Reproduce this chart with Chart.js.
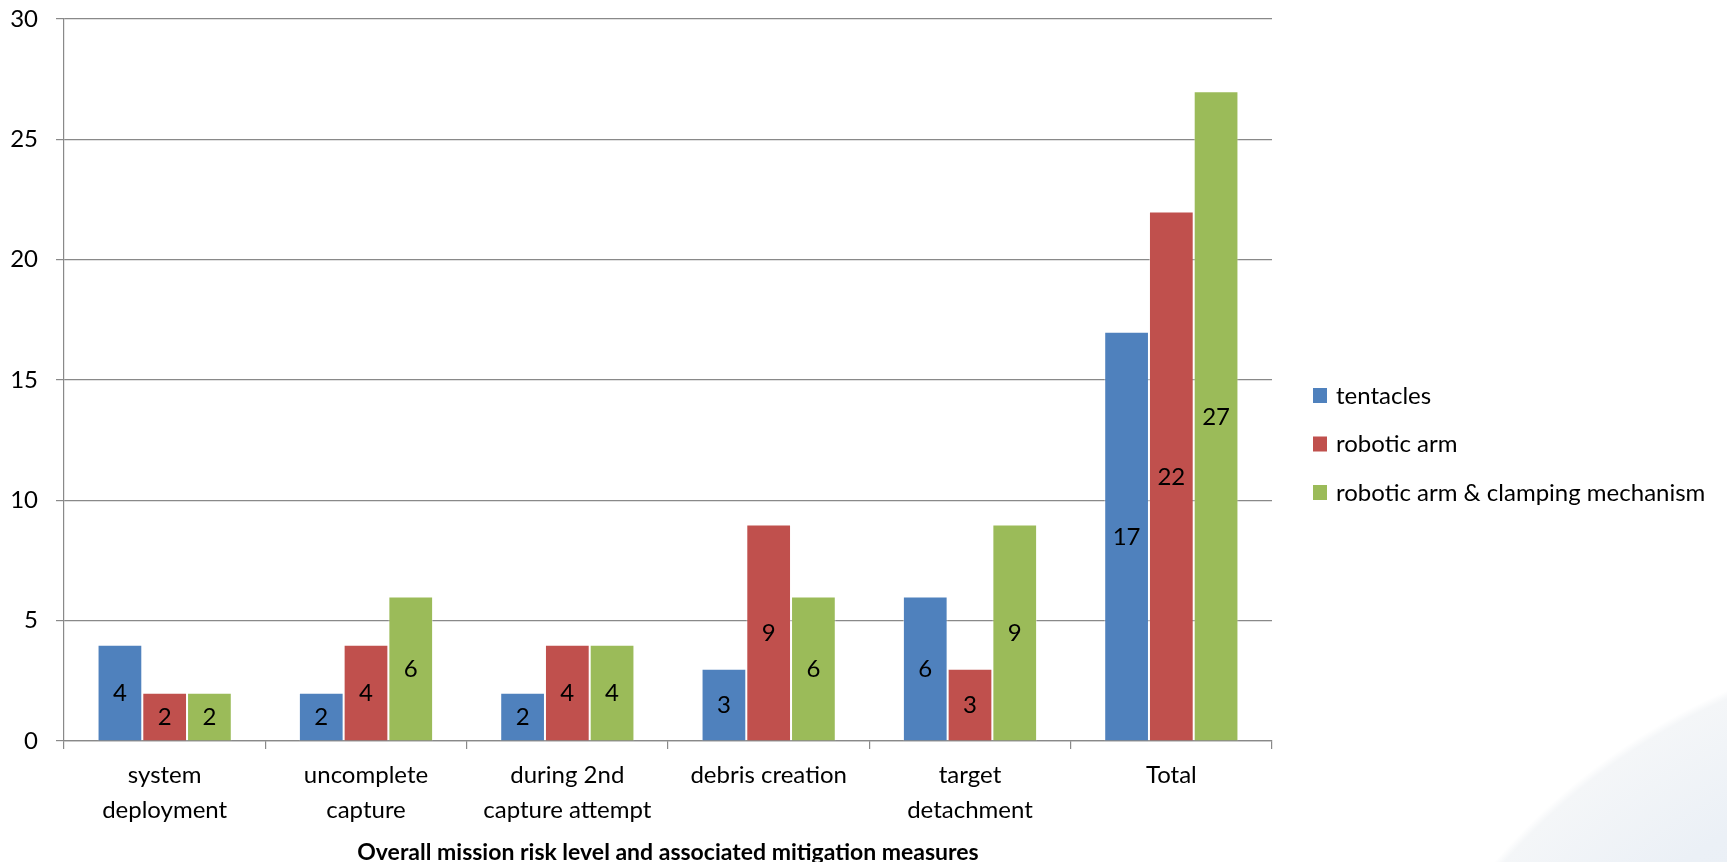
<!DOCTYPE html>
<html>
<head>
<meta charset="utf-8">
<title>Overall mission risk level</title>
<script src="https://cdn.jsdelivr.net/npm/chart.js@4/dist/chart.umd.min.js"></script>
<style>
  html, body { margin: 0; padding: 0; }
  body {
    width: 1727px; height: 862px; overflow: hidden;
    background:
      radial-gradient(circle at 1985px 1285px, #e4ebf3 0, #ebf0f6 520px, #f4f6f8 640px, rgba(255,255,255,0) 648px),
      #ffffff;
  }
  #wrap { position: relative; width: 1727px; height: 862px; }
</style>
</head>
<body>
<div id="wrap"><canvas id="riskChart"></canvas></div>
<script>
const categories = [
  ["system", "deployment"],
  ["uncomplete", "capture"],
  ["during 2nd", "capture attempt"],
  "debris creation",
  ["target", "detachment"],
  "Total"
];
const seriesNames = ["tentacles", "robotic arm", "robotic arm & clamping mechanism"];
const tentacles = [4, 2, 2, 3, 6, 17];
const roboticArm = [2, 4, 4, 9, 3, 22];
const roboticArmClamp = [2, 6, 4, 6, 9, 27];
const yTicks = [0, 5, 10, 15, 20, 25, 30];

const colors = ["#4F81BD", "#C0504D", "#9BBB59"];
const fontFamily = "Lato, 'Noto Sans', sans-serif";
const fontSize = 24;
const axisGrey = "#898989";

// value printed in the middle of every bar
const barLabels = {
  id: "barLabels",
  afterDatasetsDraw(chart) {
    const ctx = chart.ctx;
    ctx.save();
    ctx.font = fontSize + "px " + fontFamily;
    ctx.fillStyle = "#000";
    ctx.textAlign = "center";
    ctx.textBaseline = "middle";
    chart.data.datasets.forEach((ds, i) => {
      chart.getDatasetMeta(i).data.forEach((bar, j) => {
        ctx.fillText(String(ds.data[j]), bar.x, (bar.y + bar.base) / 2 + 1);
      });
    });
    ctx.restore();
  }
};

// legend stacked to the right of the plot
const sideLegend = {
  id: "sideLegend",
  afterDraw(chart) {
    const ctx = chart.ctx;
    const left = chart.chartArea.right + 41;
    const top = 395;
    const gap = 48.5;
    ctx.save();
    ctx.font = fontSize + "px " + fontFamily;
    ctx.textBaseline = "middle";
    ctx.textAlign = "left";
    chart.data.datasets.forEach((ds, i) => {
      const y = top + i * gap;
      ctx.fillStyle = ds.backgroundColor;
      ctx.fillRect(left, y - 7, 14, 15);
      ctx.fillStyle = "#000";
      ctx.fillText(ds.label, left + 23, y + 1);
    });
    ctx.restore();
  }
};

const datasets = [tentacles, roboticArm, roboticArmClamp].map((values, i) => ({
  label: seriesNames[i],
  data: values,
  backgroundColor: colors[i],
  borderColor: "rgba(255,255,255,0.45)",
  borderWidth: 1,
  borderSkipped: "bottom",
  categoryPercentage: 3 / 4.5,
  barPercentage: 1
}));

new Chart(document.getElementById("riskChart"), {
  type: "bar",
  data: { labels: categories, datasets: datasets },
  plugins: [barLabels, sideLegend],
  options: {
    responsive: true,
    maintainAspectRatio: false,
    animation: false,
    layout: { padding: { top: 19, right: 455, bottom: 0, left: 0 } },
    plugins: {
      legend: { display: false },
      tooltip: { enabled: false }
    },
    scales: {
      x: {
        grid: {
          offset: true,
          drawOnChartArea: false,
          drawTicks: true,
          tickLength: 8,
          color: axisGrey,
          lineWidth: 1.2
        },
        border: { color: axisGrey, width: 1.2 },
        ticks: {
          color: "#000",
          padding: 9,
          maxRotation: 0,
          autoSkip: false,
          font: { family: fontFamily, size: fontSize, lineHeight: 1.46 }
        },
        title: {
          display: true,
          text: "Overall mission risk level and associated mitigation measures",
          color: "#000",
          padding: { top: 0, bottom: 0 },
          font: { family: fontFamily, size: 23, weight: "bold", lineHeight: 0.85 }
        },
        afterFit(scale) { scale.height = 121; }
      },
      y: {
        min: yTicks[0],
        max: yTicks[yTicks.length - 1],
        afterBuildTicks(scale) { scale.ticks = yTicks.map(v => ({ value: v })); },
        grid: {
          color: axisGrey,
          lineWidth: 1.2,
          drawTicks: true,
          tickLength: 8
        },
        border: { color: axisGrey, width: 1.2 },
        ticks: {
          color: "#000",
          padding: 18,
          font: { family: fontFamily, size: fontSize }
        },
        afterFit(scale) {
          scale.width = 64;
          scale.paddingTop = 0;
          scale.paddingBottom = 0;
        }
      }
    }
  }
});
</script>
</body>
</html>
